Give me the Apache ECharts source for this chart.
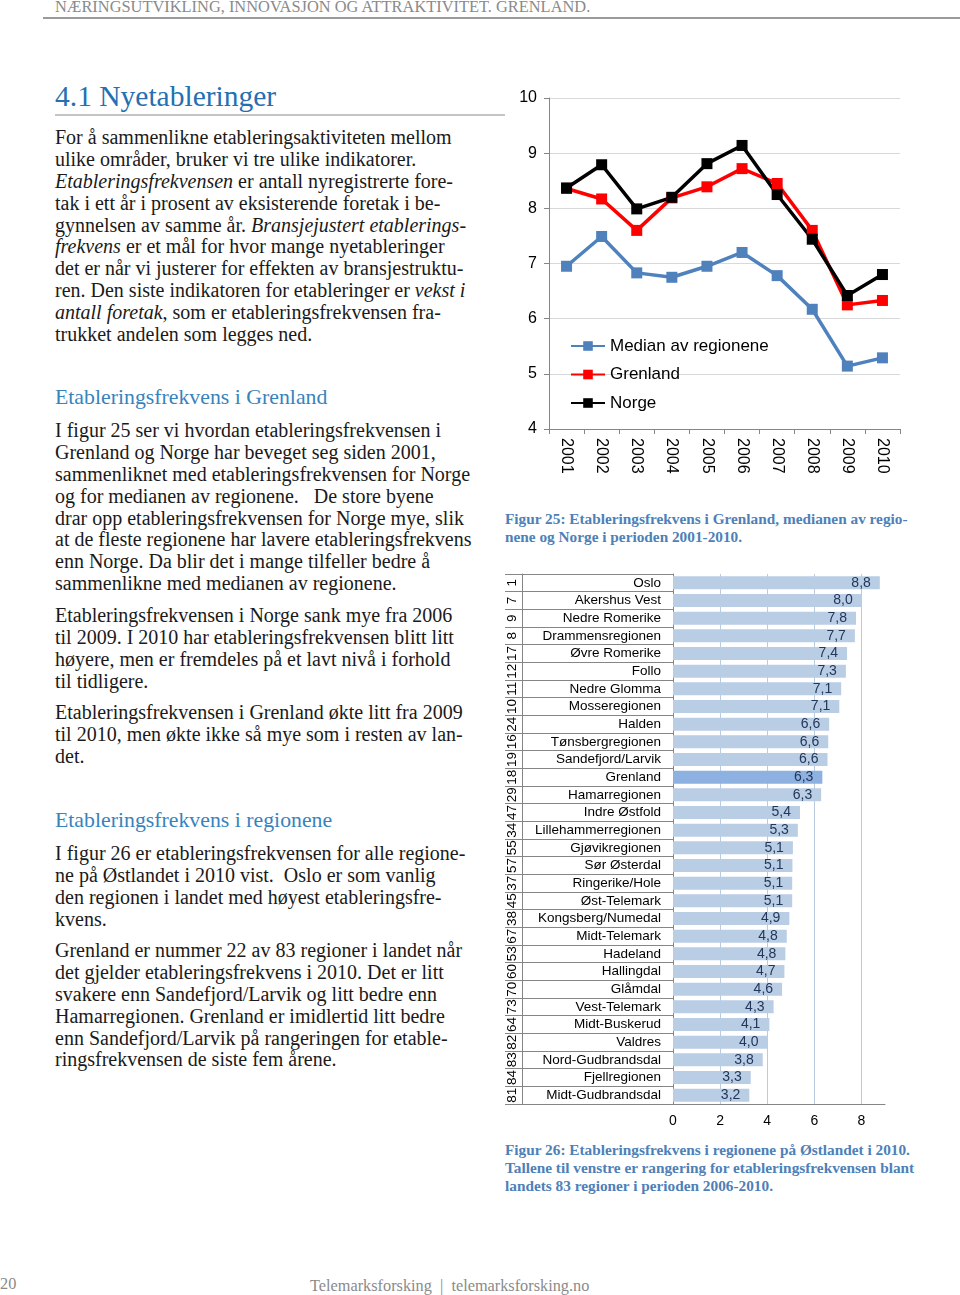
<!DOCTYPE html>
<html><head><meta charset="utf-8">
<script src="https://cdn.jsdelivr.net/npm/echarts@6/dist/echarts.min.js"></script>
<style>
html,body{margin:0;padding:0;background:#fff;}
#page{position:relative;width:960px;height:1295px;overflow:hidden;background:#fff;}
#chart{position:absolute;left:0;top:0;width:960px;height:1295px;}
.t{position:absolute;white-space:pre;font-family:"Liberation Serif","Times New Roman",serif;color:#1a1a1a;}
.body{font-size:20px;line-height:21.87px;}
.h1{font-size:29.5px;color:#2470B1;}
.h2{font-size:21.8px;color:#3783BC;}
.cap{font-size:15.3px;font-weight:bold;color:#4E80B8;line-height:18px;}
.hdr{font-size:16.4px;color:#8a8a8a;}
.ftr{font-size:16.3px;color:#8a8a8a;}
.rule{position:absolute;height:2px;background:#b5b5b5;}
</style></head>
<body><div id="page">
<div class="t hdr" style="left:55px;top:-3px;">NÆRINGSUTVIKLING, INNOVASJON OG ATTRAKTIVITET. GRENLAND.</div>
<div class="rule" style="left:43px;top:17px;width:917px;background:#9a9a9a;"></div>
<div class="t h1" style="left:55px;top:80px;">4.1 Nyetableringer</div>
<div class="rule" style="left:55px;top:114px;width:450px;background:#c4c4c4;"></div>

<div class="t body" style="left:55px;top:127px;">For å sammenlikne etableringsaktiviteten mellom
ulike områder, bruker vi tre ulike indikatorer.
<i>Etableringsfrekvensen</i> er antall nyregistrerte fore-
tak i ett år i prosent av eksisterende foretak i be-
gynnelsen av samme år. <i>Bransjejustert etablerings-
frekvens</i> er et mål for hvor mange nyetableringer
det er når vi justerer for effekten av bransjestruktu-
ren. Den siste indikatoren for etableringer er <i>vekst i
antall foretak</i>, som er etableringsfrekvensen fra-
trukket andelen som legges ned.</div>

<div class="t h2" style="left:55px;top:385px;">Etableringsfrekvens i Grenland</div>
<div class="t body" style="left:55px;top:420px;">I figur 25 ser vi hvordan etableringsfrekvensen i
Grenland og Norge har beveget seg siden 2001,
sammenliknet med etableringsfrekvensen for Norge
og for medianen av regionene.   De store byene
drar opp etableringsfrekvensen for Norge mye, slik
at de fleste regionene har lavere etableringsfrekvens
enn Norge. Da blir det i mange tilfeller bedre å
sammenlikne med medianen av regionene.</div>

<div class="t body" style="left:55px;top:605px;">Etableringsfrekvensen i Norge sank mye fra 2006
til 2009. I 2010 har etableringsfrekvensen blitt litt
høyere, men er fremdeles på et lavt nivå i forhold
til tidligere.</div>

<div class="t body" style="left:55px;top:702px;">Etableringsfrekvensen i Grenland økte litt fra 2009
til 2010, men økte ikke så mye som i resten av lan-
det.</div>

<div class="t h2" style="left:55px;top:808px;">Etableringsfrekvens i regionene</div>
<div class="t body" style="left:55px;top:843px;">I figur 26 er etableringsfrekvensen for alle regione-
ne på Østlandet i 2010 vist.  Oslo er som vanlig
den regionen i landet med høyest etableringsfre-
kvens.</div>

<div class="t body" style="left:55px;top:940px;">Grenland er nummer 22 av 83 regioner i landet når
det gjelder etableringsfrekvens i 2010. Det er litt
svakere enn Sandefjord/Larvik og litt bedre enn
Hamarregionen. Grenland er imidlertid litt bedre
enn Sandefjord/Larvik på rangeringen for etable-
ringsfrekvensen de siste fem årene.</div>

<div class="t cap" style="left:505px;top:510px;">Figur 25: Etableringsfrekvens i Grenland, medianen av regio-
nene og Norge i perioden 2001-2010.</div>
<div class="t cap" style="left:505px;top:1141px;">Figur 26: Etableringsfrekvens i regionene på Østlandet i 2010.
Tallene til venstre er rangering for etableringsfrekvensen blant
landets 83 regioner i perioden 2006-2010.</div>

<div class="t ftr" style="left:0px;top:1274px;">20</div>
<div class="t ftr" style="left:310px;top:1276px;">Telemarksforsking  |  telemarksforsking.no</div>

<div id="chart"></div>
</div>
<script>
// ---- Figure 25 data ----
const years = ['2001','2002','2003','2004','2005','2006','2007','2008','2009','2010'];
const medianRegioner = [6.95, 7.49, 6.83, 6.75, 6.95, 7.20, 6.78, 6.17, 5.14, 5.29];
const grenland = [8.36, 8.17, 7.60, 8.19, 8.39, 8.72, 8.45, 7.60, 6.25, 6.33];
const norge = [8.37, 8.79, 7.99, 8.20, 8.81, 9.14, 8.25, 7.44, 6.42, 6.80];
const yTicks = [4, 10, 1]; // min, max, interval

// ---- Figure 26 data ----
const regions = ['Oslo','Akershus Vest','Nedre Romerike','Drammensregionen','Øvre Romerike','Follo','Nedre Glomma','Mosseregionen','Halden','Tønsbergregionen','Sandefjord/Larvik','Grenland','Hamarregionen','Indre Østfold','Lillehammerregionen','Gjøvikregionen','Sør Østerdal','Ringerike/Hole','Øst-Telemark','Kongsberg/Numedal','Midt-Telemark','Hadeland','Hallingdal','Glåmdal','Vest-Telemark','Midt-Buskerud','Valdres','Nord-Gudbrandsdal','Fjellregionen','Midt-Gudbrandsdal'];
const ranks = ['1','7','9','8','17','12','11','10','24','16','19','18','29','47','34','55','57','37','45','38','67','53','60','70','73','64','82','83','84','81'];
const freq2010 = [8.78, 8.01, 7.77, 7.72, 7.39, 7.34, 7.14, 7.06, 6.63, 6.59, 6.56, 6.34, 6.29, 5.39, 5.30, 5.09, 5.07, 5.06, 5.06, 4.94, 4.83, 4.77, 4.73, 4.63, 4.27, 4.09, 4.01, 3.81, 3.30, 3.24];
const barTicks = [0, 9, 2];

const chart = echarts.init(document.getElementById('chart'), null, {renderer:'canvas'});
const axisGrey = '#868686';
const sans = '"Liberation Sans", Arial, sans-serif';
const lineSeries = (name, data, color) => ({
  name, type:'line', data, xAxisIndex:0, yAxisIndex:0,
  symbol:'rect', symbolSize:11,
  lineStyle:{width:3.5, color}, itemStyle:{color},
  emphasis:{disabled:true}
});
chart.setOption({
  animation:false,
  textStyle:{fontFamily:sans},
  grid:[
    {left:549, top:98, width:351, height:331},
    {left:673, top:574, width:212, height:530}
  ],
  legend:{
    data:['Median av regionene','Grenland','Norge'],
    orient:'vertical', left:570, top:336, padding:0,
    itemWidth:34, itemHeight:12, itemGap:8.5,
    textStyle:{fontSize:17, color:'#000', fontFamily:sans, lineHeight:20}
  },
  xAxis:[
    {gridIndex:0, type:'category', data:years, boundaryGap:true,
     axisLine:{lineStyle:{color:axisGrey}},
     axisTick:{show:true, length:5, lineStyle:{color:axisGrey}},
     axisLabel:{rotate:-90, fontSize:16, color:'#000', margin:9, interval:0},
     splitLine:{show:false}},
    {gridIndex:1, type:'value', min:barTicks[0], max:barTicks[1], interval:barTicks[2],
     axisLine:{show:true, lineStyle:{color:axisGrey}},
     axisTick:{show:false},
     axisLabel:{fontSize:14, color:'#000', margin:10, showMaxLabel:false},
     splitLine:{show:true, showMaxLine:false, showMinLine:false, lineStyle:{color:'#BACBDF'}}}
  ],
  yAxis:[
    {gridIndex:0, type:'value', min:yTicks[0], max:yTicks[1], interval:yTicks[2],
     axisLine:{show:true, lineStyle:{color:axisGrey}},
     axisTick:{show:true, length:5, lineStyle:{color:axisGrey}},
     axisLabel:{fontSize:16, color:'#000', margin:12},
     splitLine:{show:true, lineStyle:{color:'#D9D9D9'}}},
    {gridIndex:1, type:'category', data:regions, inverse:true, position:'left',
     axisLine:{show:true, lineStyle:{color:axisGrey}},
     axisTick:{show:true, interval:0, length:168, lineStyle:{color:axisGrey}},
     axisLabel:{fontSize:13.5, color:'#000', margin:12, interval:0}},
    {gridIndex:1, type:'category', data:ranks, inverse:true, position:'left', offset:151,
     axisLine:{show:true, lineStyle:{color:axisGrey}},
     axisTick:{show:false},
     axisLabel:{rotate:90, fontSize:13.5, color:'#000', margin:3, interval:0}}
  ],
  series:[
    lineSeries('Median av regionene', medianRegioner, '#4F81BD'),
    lineSeries('Grenland', grenland, '#FF0000'),
    lineSeries('Norge', norge, '#000000'),
    {type:'bar', xAxisIndex:1, yAxisIndex:1, data:freq2010, barWidth:13,
     itemStyle:{color:(p)=> regions[p.dataIndex]==='Grenland' ? '#8DB1E0' : '#B9CDE5'},
     label:{show:true, position:'insideRight', distance:9, fontSize:14, color:'#22375A',
            formatter:(p)=>p.value.toFixed(1).replace('.',',')},
     emphasis:{disabled:true}}
  ]
});
</script>
</body></html>
